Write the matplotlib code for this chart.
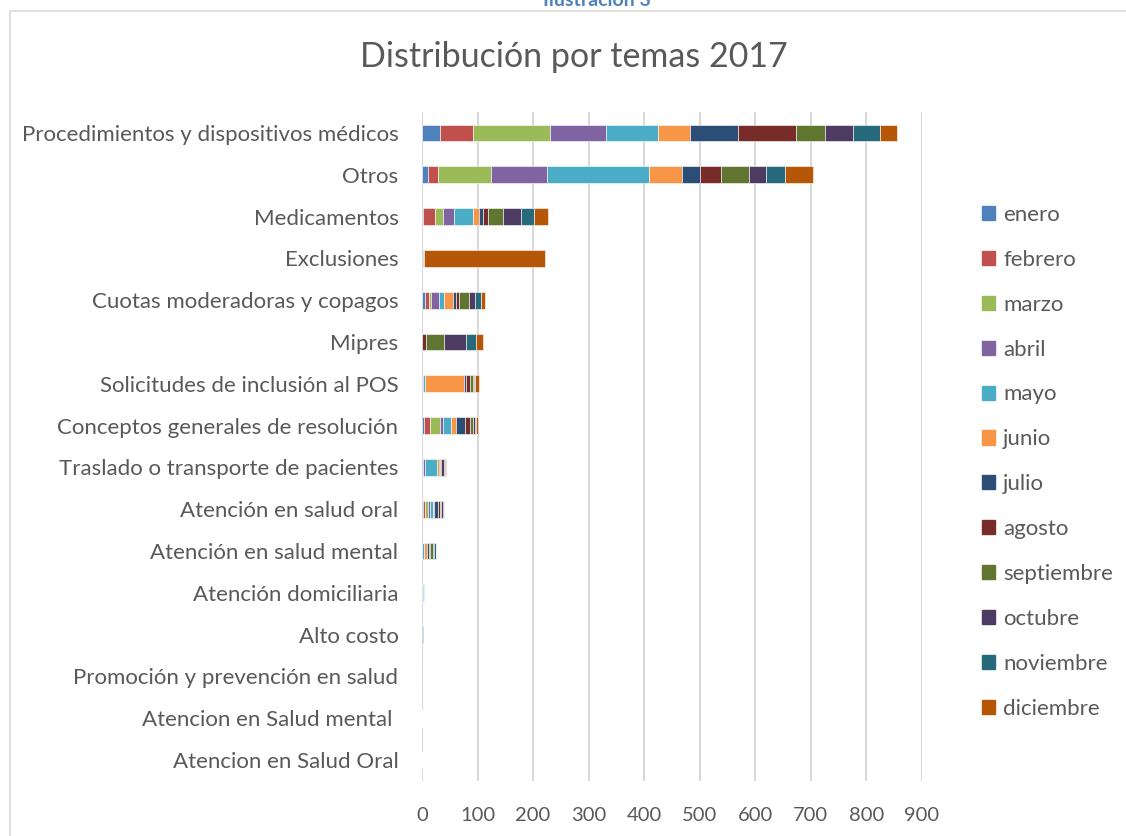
import numpy as np
import matplotlib.pyplot as plt
import matplotlib.patches as mpatches

plt.rcParams['font.family'] = ['Lato', 'DejaVu Sans']

temas = [
    "Procedimientos y dispositivos médicos",
    "Otros",
    "Medicamentos",
    "Exclusiones",
    "Cuotas moderadoras y copagos",
    "Mipres",
    "Solicitudes de inclusión al POS",
    "Conceptos generales de resolución",
    "Traslado o transporte de pacientes",
    "Atención en salud oral",
    "Atención en salud mental",
    "Atención domiciliaria",
    "Alto costo",
    "Promoción y prevención en salud",
    "Atencion en Salud mental ",
    "Atencion en Salud Oral",
]

meses = ["enero", "febrero", "marzo", "abril", "mayo", "junio", "julio",
         "agosto", "septiembre", "octubre", "noviembre", "diciembre"]

# one list per month, same order as temas
enero      = [32, 10,  2,   1, 5, 0, 0,  3,  1, 1, 0, 0, 1, 1, 0, 0]
febrero    = [59, 19, 21,   0, 7, 0, 0, 11,  0, 4, 0, 0, 0, 0, 0, 0]
marzo      = [140, 96, 15,  0, 5, 0, 0, 19,  1, 5, 0, 0, 0, 0, 0, 0]
abril      = [101, 100, 20, 2, 13, 0, 1, 5,  4, 4, 0, 0, 1, 0, 0, 0]
mayo       = [92, 183, 33,  0, 10, 0, 4, 14, 21, 5, 3, 1, 0, 1, 0, 0]
junio      = [59, 60, 11,   0, 15, 0, 70, 9,  3, 3, 6, 0, 0, 0, 0, 0]
julio      = [85, 33,  7,   0, 6, 0, 4, 16,  2, 6, 3, 0, 1, 0, 0, 0]
agosto     = [106, 37, 9,   0, 5, 7, 7, 10,  1, 5, 3, 0, 0, 0, 0, 0]
septiembre = [52, 50, 28,   0, 18, 33, 5, 4,  2, 2, 4, 0, 0, 0, 0, 0]
octubre    = [50, 32, 32,   0, 11, 39, 3, 4,  5, 2, 3, 1, 0, 0, 0, 0]
noviembre  = [49, 33, 23,   0, 12, 18, 2, 2,  2, 2, 3, 2, 0, 0, 0, 0]
diciembre  = [30, 51, 25, 219, 6, 12, 6, 3,  1, 0, 1, 0, 0, 0, 0, 0]

series = [enero, febrero, marzo, abril, mayo, junio, julio, agosto,
          septiembre, octubre, noviembre, diciembre]

colores = ["#4F81BD", "#C0504D", "#9BBB59", "#8064A2", "#4BACC6", "#F79646",
           "#2C4D75", "#772C2A", "#5F7530", "#4D3B62", "#276A7C", "#B65708"]

fig = plt.figure(figsize=(11.26, 8.36), dpi=100)

# chart frame and caption
fig.patches.append(mpatches.Rectangle((10 / 1126, -0.01), 1.2, 1 - 11 / 836 + 0.01,
                                      transform=fig.transFigure, fill=False,
                                      edgecolor="#D9D9D9", linewidth=1.2))
fig.text(0.53, 0.999, "Ilustración 3", ha="center", va="center", fontsize=14,
         fontweight="bold", color="#4F81BD")

ax = fig.add_axes([422 / 1126, 1 - 781 / 836, 500 / 1126, 669 / 836])

y = np.arange(len(temas))
left = np.zeros(len(temas))
handles = []
for mes, vals, col in zip(meses, series, colores):
    vals = np.array(vals, dtype=float)
    ax.barh(y, vals, left=left, height=0.4, color=col, edgecolor="white",
            linewidth=0.4, label=mes, zorder=3)
    left += vals
    handles.append(mpatches.Patch(color=col, label=mes))

ax.set_xlim(0, 900)
ax.set_ylim(len(temas) - 0.5, -0.5)
ax.set_xticks(range(0, 901, 100))
ax.set_yticks(y)
ax.set_yticklabels(temas)
ax.grid(axis="x", color="#D9D9D9", linewidth=1.5, zorder=0)
for s in ax.spines.values():
    s.set_visible(False)
ax.tick_params(axis="both", length=0, colors="#595959")
ax.tick_params(axis="y", pad=17, labelsize=16)
ax.tick_params(axis="x", pad=19, labelsize=14.5)

fig.text(0.51, 0.932, "Distribución por temas 2017", ha="center", va="center",
         fontsize=24.5, color="#595959")

fig.legend(handles=handles, loc="upper left", bbox_to_anchor=(973 / 1126, 1 - 196 / 836),
           frameon=False, fontsize=16, labelcolor="#595959", labelspacing=1.12,
           handlelength=0.6, handleheight=0.6, handletextpad=0.35, borderaxespad=0)

fig.savefig("out.png", dpi=100)
